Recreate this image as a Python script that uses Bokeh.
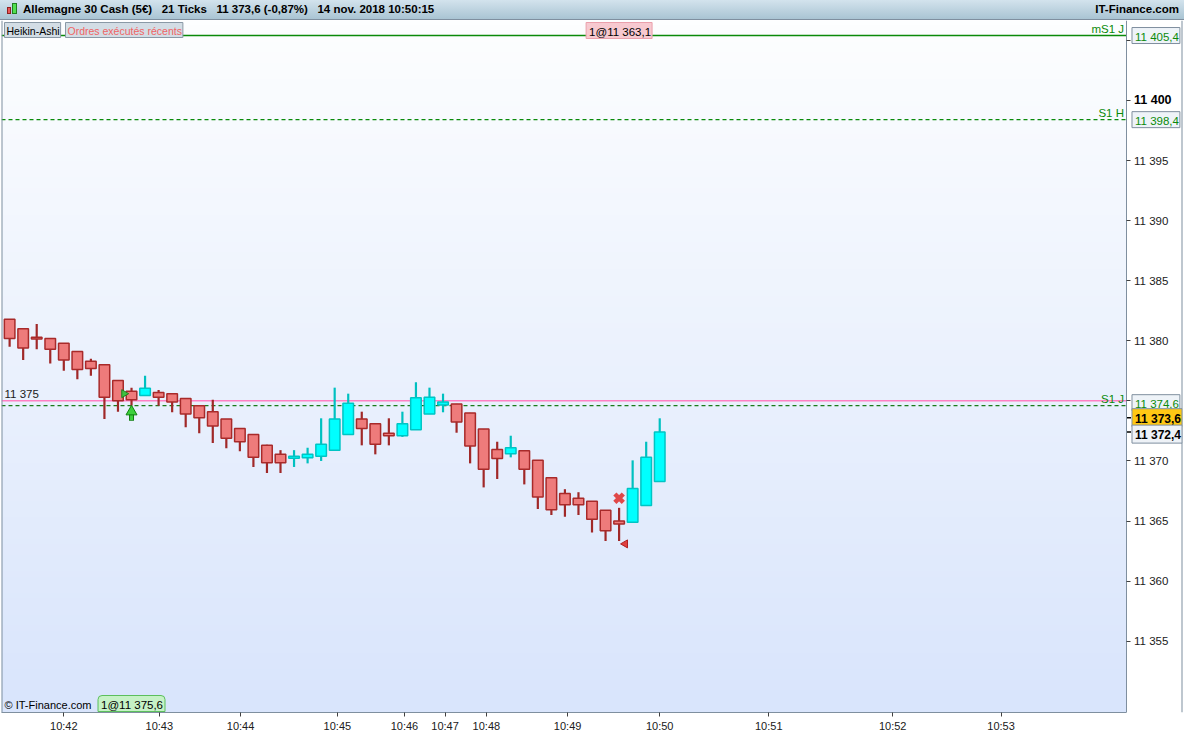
import numpy as np
from bokeh.plotting import figure
from bokeh.models import Range1d, FixedTicker, Span, Label, Div, ColumnDataSource
from bokeh.core.properties import value
from bokeh.layouts import column
from bokeh.embed import file_html
from bokeh.resources import INLINE

# ---------------- data ----------------
ha_open = [11381.8, 11381.0, 11380.3, 11380.2, 11379.8, 11379.1, 11378.3, 11378.0, 11376.7, 11375.8,
           11375.45, 11375.7, 11375.6, 11375.2, 11374.6, 11374.1, 11373.5, 11372.7, 11372.2, 11371.3,
           11370.55, 11370.22, 11370.26, 11370.4, 11370.9, 11372.2, 11373.5, 11373.1, 11372.3, 11372.1,
           11372.6, 11373.9, 11374.65, 11374.75, 11374.0, 11372.65, 11370.95, 11370.6, 11370.85, 11370.05,
           11368.6, 11367.3, 11366.9, 11366.65, 11365.9, 11365.0, 11364.9, 11366.3, 11368.3]
ha_high = [11381.8, 11381.0, 11381.4, 11380.2, 11379.8, 11379.1, 11378.5, 11378.0, 11376.7, 11376.1,
           11377.1, 11375.9, 11375.6, 11375.2, 11374.6, 11375.1, 11373.5, 11372.7, 11372.2, 11371.35,
           11370.9, 11370.9, 11371.1, 11373.55, 11376.1, 11375.6, 11374.1, 11373.1, 11373.55, 11374.1,
           11376.55, 11376.1, 11375.6, 11374.75, 11374.0, 11372.65, 11371.6, 11372.1, 11370.85, 11370.05,
           11368.6, 11367.65, 11367.4, 11366.65, 11365.9, 11366.1, 11370.05, 11371.6, 11373.55]
ha_low = [11379.5, 11378.4, 11379.3, 11378.1, 11377.5, 11376.8, 11377.1, 11373.5, 11374.1, 11374.6,
          11375.45, 11374.6, 11374.05, 11372.8, 11372.3, 11371.5, 11371.05, 11370.8, 11369.5, 11369.0,
          11369.0, 11369.5, 11369.8, 11370.0, 11370.9, 11372.2, 11371.3, 11370.55, 11371.3, 11372.0,
          11372.6, 11373.9, 11374.05, 11372.35, 11369.8, 11367.8, 11368.5, 11370.3, 11368.05, 11366.0,
          11365.5, 11365.35, 11365.5, 11364.05, 11363.35, 11363.35, 11364.9, 11366.3, 11368.3]
ha_close = [11380.2, 11379.4, 11380.15, 11379.3, 11378.4, 11377.6, 11377.7, 11375.3, 11375.0, 11375.1,
            11376.05, 11375.3, 11374.9, 11373.9, 11373.6, 11372.9, 11371.9, 11371.6, 11370.3, 11369.85,
            11369.85, 11370.4, 11370.56, 11371.4, 11373.5, 11374.8, 11372.7, 11371.4, 11372.1, 11373.1,
            11375.25, 11375.3, 11374.9, 11373.25, 11371.25, 11369.3, 11370.2, 11371.1, 11369.3, 11367.0,
            11365.95, 11366.35, 11366.35, 11365.15, 11364.2, 11364.75, 11367.7, 11370.3, 11372.4]

time_tick_pos = [4.0, 11.05, 17.05, 24.2, 29.15, 32.15, 35.2, 41.2, 48.0, 56.05, 65.2, 73.2]
time_tick_labels = ["10:42", "10:43", "10:44", "10:45", "10:46", "10:47", "10:48", "10:49",
                    "10:50", "10:51", "10:52", "10:53"]
price_ticks = [11355, 11360, 11365, 11370, 11375, 11380, 11385, 11390, 11395, 11400, 11405]
bold_tick = 11400

level_values = [11405.4, 11398.4, 11374.6]
level_names = ["mS1 J", "S1 H", "S1 J"]
manual_level = 11375.0
last_price = 11373.6
last_close = 11372.4

signal_idx = [9, 45]          # buy arrow, sell cross
signal_price = [11374.1, 11366.9]
order_idx = [9, 45]           # buy order, sell order
order_price = [11375.6, 11363.1]

# ---------------- layout constants ----------------
W = 1184
H_TITLE = 20
H = 734 - H_TITLE
AXIS_FRAC = 0.953         # price-axis line position as a fraction of the frame width
X_START, AXIS_X = -0.6, 82.5
X_END = X_START + (AXIS_X - X_START) / AXIS_FRAC
Y_START, Y_END = 11349.07, 11406.65


def fr(v, d=1):
    return f"{v:,.{d}f}".replace(",", " ").replace(".", ",")


FONT = "Liberation Sans"
GREEN = "#0a8a0a"
AXIS_GRAY = "#7f8f9f"

p = figure(width=W, height=H, x_range=Range1d(X_START, X_END), y_range=Range1d(Y_START, Y_END),
           y_axis_location="right", output_backend="svg", toolbar_location=None,
           min_border_left=1, min_border_right=2, min_border_top=0, min_border_bottom=20)
p.grid.visible = False
p.outline_line_color = None
p.border_fill_color = "white"
p.background_fill_color = "white"

# background gradient of the chart area
n = 128
img = np.empty((n, 1), dtype=np.uint32)
view = img.view(dtype=np.uint8).reshape((n, 1, 4))
t = np.linspace(0.0, 1.0, n)
bottom_c = np.array([217, 229, 252])
top_c = np.array([253, 254, 255])
for i in range(n):
    c = bottom_c + (top_c - bottom_c) * t[i]
    view[i, 0, 0:3] = c.astype(np.uint8)
    view[i, 0, 3] = 255
p.image_rgba(image=[img], x=X_START, y=Y_START, dw=AXIS_X - X_START, dh=Y_END - Y_START, level="image")
p.add_layout(Span(location=X_START, dimension="height", line_color=AXIS_GRAY, line_width=2))
p.add_layout(Span(location=X_END, dimension="height", line_color=AXIS_GRAY, line_width=2))

# candles
idx = list(range(len(ha_open)))
up = [c >= o for o, c in zip(ha_open, ha_close)]
src = ColumnDataSource(dict(
    x=idx,
    top=[max(o, c) for o, c in zip(ha_open, ha_close)],
    bottom=[min(o, c) for o, c in zip(ha_open, ha_close)],
    high=ha_high, low=ha_low,
    fill=["#00ffff" if u else "#ee7b7b" for u in up],
    line=["#00c4c4" if u else "#a82a2a" for u in up],
    wick=["#00c0c0" if u else "#a02828" for u in up],
))

# level lines (stop at the price axis)
p.segment(x0=X_START, x1=AXIS_X, y0=level_values[0], y1=level_values[0], line_color=GREEN, line_width=1.5)
p.segment(x0=X_START, x1=AXIS_X, y0=level_values[1], y1=level_values[1], line_color=GREEN, line_width=1.2,
          line_dash="4 3")
p.segment(x0=X_START, x1=AXIS_X, y0=manual_level, y1=manual_level, line_color="#ff80c4", line_width=1.5)
p.segment(x0=X_START, x1=AXIS_X, y0=level_values[2], y1=level_values[2], line_color="#1a7a1a",
          line_width=1.2, line_dash="4 3")

p.segment(x0="x", y0="low", x1="x", y1="high", line_color="wick", line_width=2.2, source=src)
p.vbar(x="x", width=0.78, top="top", bottom="bottom", fill_color="fill", line_color="line",
       line_width=1.5, source=src)

# signals
p.segment(x0=[signal_idx[0]], y0=[signal_price[0] - 0.75], x1=[signal_idx[0]], y1=[signal_price[0]],
          line_color="#108010", line_width=5)
p.segment(x0=[signal_idx[0]], y0=[signal_price[0] - 0.7], x1=[signal_idx[0]], y1=[signal_price[0]],
          line_color="#3cd03c", line_width=3)
p.scatter(x=[signal_idx[0]], y=[signal_price[0]], marker="triangle", size=11,
          fill_color="#3cd03c", line_color="#108010", line_width=1)
p.scatter(x=[signal_idx[1]], y=[signal_price[1]], marker="x", size=12, line_color="#e04848", line_width=4.5)

# orders
p.scatter(x=[order_idx[0] - 0.55], y=[order_price[0]], marker="triangle", angle=-np.pi / 2, size=8,
          fill_color="#40c040", line_color="#208020")
p.scatter(x=[order_idx[1] + 0.45], y=[order_price[1]], marker="triangle", angle=np.pi / 2, size=8,
          fill_color="#e04040", line_color="#b02020")

# price axis: line + ticks from a real axis fixed at the chart edge, labels beside it
p.yaxis.fixed_location = AXIS_X
p.yaxis.ticker = FixedTicker(ticks=price_ticks)
p.yaxis.major_label_overrides = {v: "" for v in price_ticks}
p.yaxis.major_label_text_font_size = "1px"
p.yaxis.axis_line_color = AXIS_GRAY
p.yaxis.major_tick_line_color = "#404040"
p.yaxis.major_tick_in = 0
p.yaxis.major_tick_out = 4
p.yaxis.minor_tick_line_color = None
p.yaxis.major_label_standoff = 0
norm_ticks = [v for v in price_ticks if v != bold_tick]
p.text(x=[AXIS_X] * len(norm_ticks), y=norm_ticks, text=[fr(v, 0) for v in norm_ticks], x_offset=7,
       text_baseline="middle", text_font=value(FONT), text_font_size="11.5px", text_color="#202020")
p.text(x=[AXIS_X], y=[bold_tick], text=[fr(bold_tick, 0)], x_offset=7, text_baseline="middle",
       text_font=value(FONT), text_font_size="12.5px", text_font_style="bold", text_color="black")
p.segment(x0=AXIS_X, x1=AXIS_X + 0.3, y0=[last_price, last_close], y1=[last_price, last_close],
          line_color="black", line_width=1.5)

# time axis
p.xaxis.ticker = FixedTicker(ticks=time_tick_pos)
p.xaxis.major_label_overrides = {pos: lab for pos, lab in zip(time_tick_pos, time_tick_labels)}
p.xaxis.bounds = (X_START, AXIS_X)
p.xaxis.axis_line_color = AXIS_GRAY
p.xaxis.major_tick_line_color = "#404040"
p.xaxis.major_tick_in = 0
p.xaxis.major_tick_out = 4
p.xaxis.minor_tick_line_color = None
p.xaxis.major_label_text_font = FONT
p.xaxis.major_label_text_font_size = "11px"
p.xaxis.major_label_text_color = "#202020"
p.xaxis.major_label_standoff = 3

# level labels
for v, name in zip(level_values, level_names):
    p.add_layout(Label(x=AXIS_X, y=v, x_offset=-3, y_offset=1, text=name, text_align="right",
                       text_baseline="bottom", text_color=GREEN, text_font=FONT, text_font_size="11.5px"))
p.add_layout(Label(x=X_START, y=manual_level, x_offset=3, y_offset=1, text=fr(manual_level, 0),
                   text_baseline="bottom", text_color="#202020", text_font=FONT, text_font_size="11.5px"))

# price boxes on the axis (stacked so that they do not overlap)
box_kw = dict(x=AXIS_X, x_offset=5, text_baseline="middle", text_align="left", text_font=FONT,
              border_line_color=AXIS_GRAY, padding=(3, 1, 3, 1))
box_shift = [0, 0, 3]
for v, s in zip(level_values, box_shift):
    p.add_layout(Label(y=v, y_offset=s, text=fr(v), text_color=GREEN, text_font_size="11.5px",
                       background_fill_color="#eef3f8", **box_kw))
p.add_layout(Label(y=last_price, text=fr(last_price), text_color="black", text_font_style="bold",
                   text_font_size="12px", background_fill_color="#ffc814", **box_kw))
p.add_layout(Label(y=last_close, y_offset=-2, text=fr(last_close), text_color="black", text_font_style="bold",
                   text_font_size="12px", background_fill_color="#eef2f7", **box_kw))

# tabs and captions
tab_kw = dict(text_baseline="top", text_font=FONT, text_font_size="10.5px",
              background_fill_color="#d3dde5", border_line_color="#8a99a6", padding=(2, 1, 2, 1))
p.add_layout(Label(x=X_START, y=Y_END, x_offset=3, y_offset=-2, text="Heikin-Ashi", text_color="black", **tab_kw))
p.add_layout(Label(x=X_START, y=Y_END, x_offset=64, y_offset=-2, text="Ordres exécutés récents",
                   text_color="#f06464", **tab_kw))
p.add_layout(Label(x=order_idx[1], y=Y_END, y_offset=-2, text="1@" + fr(order_price[1]), text_align="center",
                   text_baseline="top", text_font=FONT, text_font_size="11.5px", text_color="black",
                   background_fill_color="#f7c9d0", border_line_color="#eaa0ac", padding=(3, 1, 3, 1)))
p.add_layout(Label(x=order_idx[0], y=Y_START, y_offset=1, text="1@" + fr(order_price[0]), text_align="center",
                   text_baseline="bottom", text_font=FONT, text_font_size="11.5px", text_color="black",
                   background_fill_color="#c6f2c6", border_line_color="#5cbf5c", padding=(3, 2, 3, 1),
                   border_radius=(4, 4, 0, 0)))
p.add_layout(Label(x=X_START, y=Y_START, x_offset=3, y_offset=2, text="© IT-Finance.com",
                   text_baseline="bottom", text_font=FONT, text_font_size="11px", text_color="black"))

title_html = (
    '<div style="box-sizing:border-box;width:1184px;height:20px;display:flex;justify-content:space-between;'
    'align-items:center;padding:0 5px 0 7px;font-family:\'Liberation Sans\',Arial,sans-serif;'
    'font-weight:bold;font-size:11.5px;color:#000;white-space:pre;border-bottom:1px solid #7f8f9f;'
    'background:linear-gradient(#d3e3ed, #a9c4d3);">'
    '<span><span style="display:inline-block;width:4px;height:7px;background:#e85858;border:1px solid #902020;'
    'vertical-align:-1px;"></span><span style="display:inline-block;width:5px;height:11px;background:#50e050;'
    'border:1px solid #208020;margin-left:1px;margin-right:6px;vertical-align:-1px;"></span>'
    'Allemagne 30 Cash (5€)   21 Ticks   11 373,6 (-0,87%)   14 nov. 2018 10:50:15</span>'
    '<span>IT-Finance.com</span></div>'
)
div = Div(text=title_html, width=W, height=H_TITLE, margin=0, styles={"overflow": "hidden"})

layout = column(div, p, spacing=0)
open("out.html", "w").write(file_html(layout, INLINE))
